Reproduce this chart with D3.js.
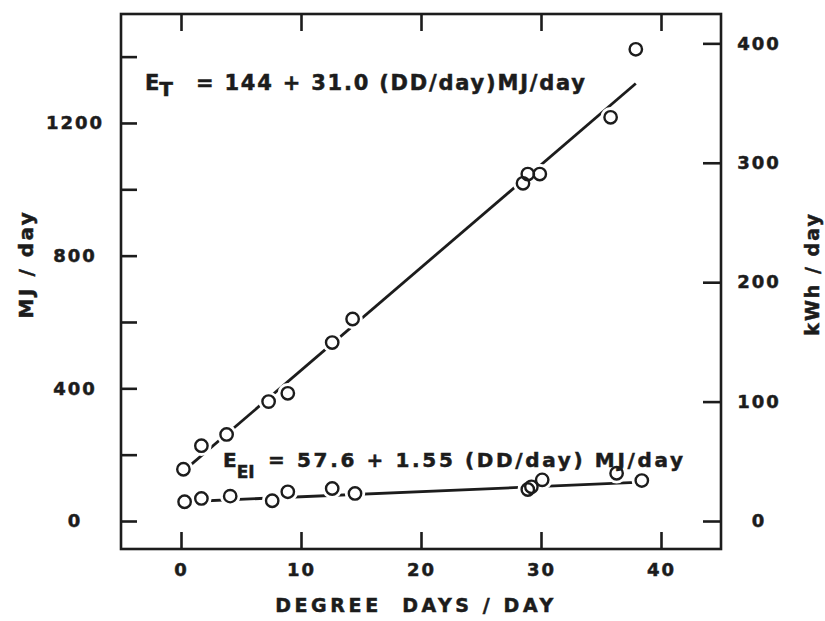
<!DOCTYPE html>
<html>
<head>
<meta charset="UTF-8">
<script src="https://d3js.org/d3.v7.min.js"></script>
<style>
    body {
        margin: 0;
        background: #fff;
    }

    svg text {
        font-family: "DejaVu Sans", sans-serif;
        font-weight: bold;
        fill: #1c1c1c;
        stroke: #1c1c1c;
        stroke-width: 0.5px;
    }

    .frame {
        fill: none;
        stroke: #1c1c1c;
        stroke-width: 2.6;
    }

    .tick line {
        stroke: #1c1c1c;
        stroke-width: 2.6;
    }

    .domain {
        display: none;
    }

    .tick text {
        font-size: 18px;
        letter-spacing: 2px;
    }

    .fit {
        fill: none;
        stroke: #1c1c1c;
        stroke-width: 2.8;
    }

    .halo {
        fill: #fff;
        stroke: #fff;
        stroke-width: 8;
    }

    .pt {
        fill: none;
        stroke: #1c1c1c;
        stroke-width: 2.4;
    }
</style>
</head>
<body>
<svg width="825" height="621"></svg>
<script>
    // degree days per day and MJ/day
    var totalDD = [0.2, 1.7, 3.8, 7.3, 8.9, 12.6, 14.3, 28.5, 28.9, 29.9, 35.8, 37.9];
    var totalMJ = [156, 227, 261, 360, 385, 538, 609, 1018, 1046, 1046, 1217, 1422];
    var elecDD = [0.3, 1.7, 4.1, 7.6, 8.9, 12.6, 14.5, 28.9, 29.2, 30.1, 36.3, 38.4];
    var elecMJ = [58, 68, 75, 61, 88, 98, 83, 95, 103, 124, 144, 122];

    // fitted lines: intercept, slope, first DD, last DD
    var totalFit = [144, 31.0, 0.2, 37.9];
    var elecFit = [57.6, 1.55, 0.3, 38.4];

    var xTicks = [0, 10, 20, 30, 40];
    var mjTicks = [0, 200, 400, 600, 800, 1000, 1200, 1400];
    var mjLabels = [0, 400, 800, 1200];
    var kwhTicks = [0, 100, 200, 300, 400];

    const svg = d3.select("svg"),
        margin = { top: 14, right: 104, bottom: 72, left: 121 },
        width = +svg.attr("width") - margin.left - margin.right,
        height = +svg.attr("height") - margin.top - margin.bottom,
        g = svg.append("g").attr("transform", `translate(${margin.left},${margin.top})`);

    const x = d3.scaleLinear().domain([-5, 45]).range([0, width]);
    const y = d3.scaleLinear().domain([-84.4, 1528.5]).range([height, 0]);
    // 1 kWh = 3.6 MJ
    const y2 = d3.scaleLinear().domain(y.domain().map(d => d / 3.6)).range([height, 0]);

    // ticks
    g.append("g")
        .attr("transform", `translate(0,${height})`)
        .call(d3.axisBottom(x).tickValues(xTicks).tickSize(-17).tickPadding(14));

    g.append("g")
        .call(d3.axisTop(x).tickValues(xTicks).tickSize(-17).tickFormat(""));

    g.append("g")
        .call(d3.axisLeft(y).tickValues(mjTicks).tickSize(-16)
            .tickFormat(d => mjLabels.includes(d) ? d : ""))
        .selectAll("text")
        .attr("text-anchor", "middle")
        .attr("x", -46);

    g.append("g")
        .attr("transform", `translate(${width},0)`)
        .call(d3.axisRight(y2).tickValues(kwhTicks).tickSize(-18))
        .selectAll("text")
        .attr("text-anchor", "middle")
        .attr("x", 38);

    g.append("rect")
        .attr("class", "frame")
        .attr("width", width)
        .attr("height", height);

    // fit lines
    [totalFit, elecFit].forEach(f => {
        g.append("line")
            .attr("class", "fit")
            .attr("x1", x(f[2]))
            .attr("y1", y(f[0] + f[1] * f[2]))
            .attr("x2", x(f[3]))
            .attr("y2", y(f[0] + f[1] * f[3]));
    });

    var pts = totalDD.map((d, i) => [d, totalMJ[i]])
        .concat(elecDD.map((d, i) => [d, elecMJ[i]]));

    g.selectAll(".halo")
        .data(pts)
        .enter().append("circle")
        .attr("class", "halo")
        .attr("cx", d => x(d[0]))
        .attr("cy", d => y(d[1]))
        .attr("r", 6.2);

    g.selectAll(".pt")
        .data(pts)
        .enter().append("circle")
        .attr("class", "pt")
        .attr("cx", d => x(d[0]))
        .attr("cy", d => y(d[1]))
        .attr("r", 6.2);

    // equations
    var e1 = svg.append("text").attr("x", 145).attr("y", 90).style("font-size", "21px");
    e1.append("tspan").text("E");
    e1.append("tspan").attr("dy", 6).style("font-size", "20px").text("T");
    svg.append("text")
        .attr("x", 196).attr("y", 90)
        .attr("textLength", 389).attr("lengthAdjust", "spacing")
        .style("font-size", "21px")
        .text("= 144 + 31.0 (DD/day)MJ/day");

    var e2 = svg.append("text").attr("x", 223).attr("y", 467).style("font-size", "20px");
    e2.append("tspan").text("E");
    e2.append("tspan").attr("dy", 11).style("font-size", "17px").text("EI");
    svg.append("text")
        .attr("x", 268).attr("y", 467)
        .attr("textLength", 415).attr("lengthAdjust", "spacing")
        .style("font-size", "20px")
        .text("= 57.6 + 1.55 (DD/day) MJ/day");

    // axis titles
    svg.append("text")
        .attr("x", 416).attr("y", 612)
        .attr("text-anchor", "middle")
        .style("font-size", "19px")
        .style("letter-spacing", "3.6px")
        .style("white-space", "pre")
        .text("DEGREE  DAYS / DAY");

    svg.append("text")
        .attr("transform", "translate(33,264) rotate(-90)")
        .attr("text-anchor", "middle")
        .style("font-size", "20px")
        .style("letter-spacing", "2.5px")
        .text("MJ / day");

    svg.append("text")
        .attr("transform", "translate(819,274) rotate(-90)")
        .attr("text-anchor", "middle")
        .style("font-size", "19px")
        .style("letter-spacing", "2px")
        .text("kWh / day");
</script>
</body>
</html>
